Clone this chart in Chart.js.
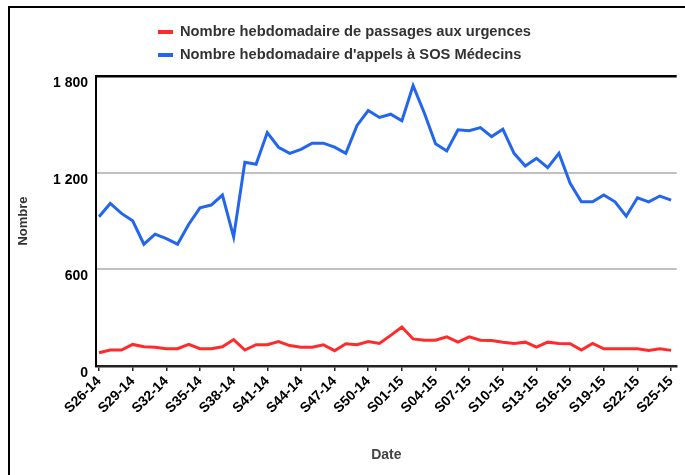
<!DOCTYPE html>
<html>
<head>
<meta charset="utf-8">
<script src="https://cdn.jsdelivr.net/npm/chart.js@4"></script>
<style>
  html, body { margin: 0; padding: 0; background: #fff; }
  #wrap { position: relative; width: 685px; height: 475px; overflow: hidden; }
  #frame { position: absolute; left: 8px; top: 6px; width: 700px; height: 500px;
           border-left: 2px solid #000; border-top: 2px solid #000; }
  canvas { position: absolute; left: 0; top: 0; }
</style>
</head>
<body>
<div id="wrap">
  <div id="frame"></div>
  <canvas id="chart" width="685" height="475"></canvas>
</div>
<script>
const weeks = [
  "S26-14", "S27-14", "S28-14", "S29-14", "S30-14", "S31-14", "S32-14", "S33-14", "S34-14",
  "S35-14", "S36-14", "S37-14", "S38-14", "S39-14", "S40-14", "S41-14", "S42-14", "S43-14",
  "S44-14", "S45-14", "S46-14", "S47-14", "S48-14", "S49-14", "S50-14", "S51-14", "S52-14",
  "S01-15", "S02-15", "S03-15", "S04-15", "S05-15", "S06-15", "S07-15", "S08-15", "S09-15",
  "S10-15", "S11-15", "S12-15", "S13-15", "S14-15", "S15-15", "S16-15", "S17-15", "S18-15",
  "S19-15", "S20-15", "S21-15", "S22-15", "S23-15", "S24-15", "S25-15",
];

// Nombre hebdomadaire de passages aux urgences
var urgences = [
  82, 99, 99, 134, 119, 117, 107, 107, 134, 107,
  107, 119, 164, 99, 132, 132, 152, 127, 117, 117,
  132, 95, 138, 132, 152, 140, 190, 242, 168, 160,
  160, 181, 148, 181, 160, 158, 148, 140, 148, 117,
  148, 140, 138, 99, 140, 107, 107, 107, 107, 97,
  107, 97,
];

// Nombre hebdomadaire d'appels à SOS Médecins
var sosMedecins = [
  926, 1009, 947, 901, 756, 818, 791, 756, 880, 982,
  999, 1061, 801, 1264, 1252, 1449, 1358, 1320, 1345, 1383,
  1383, 1358, 1320, 1493, 1586, 1543, 1563, 1522, 1740, 1570,
  1379, 1335, 1466, 1460, 1480, 1424, 1470, 1320, 1241, 1289,
  1231, 1320, 1134, 1019, 1019, 1061, 1019, 930, 1044, 1019,
  1055, 1030,
];

var yTicks = [0, 600, 1200, 1800];

// one label every 3 weeks
var shownWeeks = weeks.map((w, i) => i).filter((i) => i % 3 === 0);

Chart.defaults.font.family = "'Liberation Sans', Arial, sans-serif";

const toPoints = (arr) => arr.map((v, i) => ({ x: i, y: v }));

const legendPlugin = {
  id: "stackedLegend",
  afterDraw(chart) {
    const c = chart.ctx;
    c.save();
    c.font = "bold 14.7px 'Liberation Sans', Arial, sans-serif";
    c.textBaseline = "middle";
    chart.data.datasets.forEach((ds, i) => {
      const y = 32 + i * 23;
      c.fillStyle = ds.borderColor;
      c.fillRect(158, y - 2, 15, 4);
      c.fillStyle = "#333";
      c.fillText(ds.label, 180, y);
    });
    c.restore();
  },
};

const ctx = document.getElementById("chart");

const myChart = new Chart(ctx, {
  type: "line",
  data: {
    datasets: [
      {
        label: "Nombre hebdomadaire de passages aux urgences",
        data: toPoints(urgences),
        borderColor: "#ff2b2b",
        borderWidth: 3,
        pointRadius: 0,
        tension: 0,
      },
      {
        label: "Nombre hebdomadaire d'appels à SOS Médecins",
        data: toPoints(sosMedecins),
        borderColor: "#2266ee",
        borderWidth: 3,
        pointRadius: 0,
        tension: 0,
      },
    ],
  },
  options: {
    responsive: false,
    animation: false,
    layout: { padding: { top: 76, right: 2, left: 0, bottom: 0 } },
    plugins: {
      legend: { display: false },
      tooltip: { enabled: false },
    },
    scales: {
      x: {
        type: "linear",
        min: -0.27,
        max: 51.5,
        afterBuildTicks: (scale) => {
          scale.ticks = shownWeeks.map((i) => ({ value: i }));
        },
        afterFit: (scale) => {
          scale.height = 109;
        },
        ticks: {
          autoSkip: false,
          minRotation: 45,
          maxRotation: 45,
          padding: 2,
          color: "#000",
          font: { size: 14, weight: "bold" },
          callback: (v) => weeks[v],
        },
        grid: {
          drawOnChartArea: false,
          drawTicks: true,
          tickLength: 5,
          color: "#222",
          lineWidth: 1.5,
        },
        border: { display: true, color: "#222", width: 2.5 },
        title: {
          display: true,
          text: "Date",
          color: "#444",
          font: { size: 14, weight: "bold" },
          padding: { top: 0, bottom: 11 },
        },
      },
      y: {
        min: 0,
        max: 1800,
        afterBuildTicks: (scale) => {
          scale.ticks = yTicks.map((v) => ({ value: v }));
        },
        afterFit: (scale) => {
          scale.width = 96;
        },
        ticks: {
          padding: 8,
          labelOffset: 7,
          color: "#000",
          font: { size: 14, weight: "bold" },
          callback: (v) => String(v).replace(/\B(?=(\d{3})+(?!\d))/g, " "),
        },
        grid: {
          drawTicks: false,
          color: (c) =>
            c.tick.value === 1800 ? "#000" : c.tick.value === 0 ? "rgba(0,0,0,0)" : "#c0c0c0",
          lineWidth: (c) => (c.tick.value === 1800 ? 2.5 : 2),
        },
        border: { display: true, color: "#000", width: 2 },
        title: {
          display: true,
          text: "Nombre",
          color: "#333",
          font: { size: 13, weight: "bold" },
          padding: { top: 16, bottom: 0 },
        },
      },
    },
  },
  plugins: [legendPlugin],
});
</script>
</body>
</html>
